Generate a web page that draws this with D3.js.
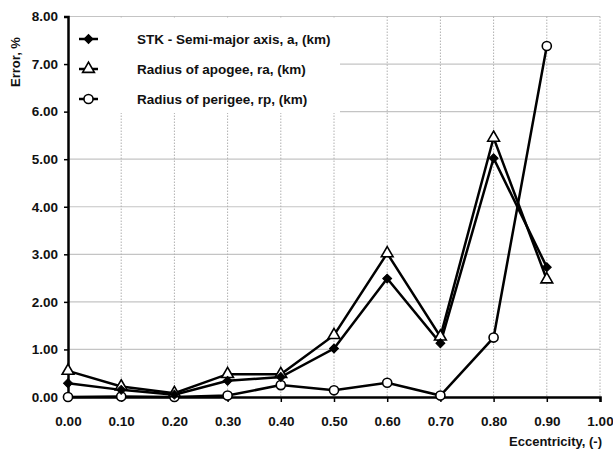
<!DOCTYPE html>
<html><head><meta charset="utf-8">
<script src="https://cdn.jsdelivr.net/npm/d3@7"></script>
<style>body{margin:0;background:#fff;} text{font-family:"Liberation Sans",Arial,sans-serif;font-weight:bold;fill:#111;}</style>
</head><body><svg id="c" width="613" height="451"></svg>
<script>
const eccentricity = [0.0, 0.1, 0.2, 0.3, 0.4, 0.5, 0.6, 0.7, 0.8, 0.9];
const semiMajor = [0.29, 0.15, 0.05, 0.34, 0.42, 1.02, 2.49, 1.13, 5.02, 2.73];
const apogee    = [0.55, 0.22, 0.08, 0.48, 0.48, 1.30, 3.02, 1.27, 5.45, 2.47];
const perigee   = [0.00, 0.01, 0.00, 0.03, 0.25, 0.14, 0.30, 0.03, 1.25, 7.38];
const seriesNames = ["STK - Semi-major axis, a, (km)", "Radius of apogee, ra, (km)", "Radius of perigee, rp, (km)"];
const xTicks = [0,0.1,0.2,0.3,0.4,0.5,0.6,0.7,0.8,0.9,1.0];
const yTicks = [0,1,2,3,4,5,6,7,8];

const svg = d3.select("#c");
const L=68, R=600, T=16.5, B=397;
const x = d3.scaleLinear().domain([0,1]).range([L,R]);
const y = d3.scaleLinear().domain([0,8]).range([B,T]);

// grid
svg.append("g").selectAll("line").data(yTicks.slice(1)).join("line")
  .attr("x1",L).attr("x2",R).attr("y1",d=>y(d)).attr("y2",d=>y(d))
  .attr("stroke","#c4c4c4").attr("stroke-width",1.2);
svg.append("g").selectAll("line").data(xTicks.slice(1)).join("line")
  .attr("x1",d=>x(d)).attr("x2",d=>x(d)).attr("y1",T).attr("y2",B)
  .attr("stroke","#b0b0b0").attr("stroke-width",1).attr("stroke-dasharray","1.5,1.5");

// legend box (white, covers grid)
svg.append("rect").attr("x",L+1).attr("y",T+1).attr("width",340-L-1).attr("height",113-T-1).attr("fill","#fff");

// axes
const xAxis = d3.axisBottom(x).tickValues(xTicks).tickFormat(d3.format(".2f")).tickSize(5).tickPadding(14);
const gx = svg.append("g").attr("transform",`translate(0,${B})`).call(xAxis);
gx.select(".domain").attr("stroke","#000").attr("stroke-width",2.5);
gx.selectAll(".tick line").attr("stroke","#000").attr("stroke-width",1.5);
gx.selectAll("text").style("font-size","13.5px").attr("fill","#222");

const yAxis = d3.axisLeft(y).tickValues(yTicks).tickFormat(d3.format(".2f")).tickSize(4).tickPadding(6);
const gy = svg.append("g").attr("transform",`translate(${L},0)`).call(yAxis);
gy.select(".domain").attr("stroke","#000").attr("stroke-width",2.5);
gy.selectAll(".tick line").attr("stroke","#000").attr("stroke-width",1.5);
gy.selectAll("text").style("font-size","13.5px").attr("fill","#222");

// titles
svg.append("text").attr("x",602).attr("y",446).attr("text-anchor","end").style("font-size","13px").text("Eccentricity, (-)");
svg.append("text").attr("transform","translate(20,62) rotate(-90)").attr("text-anchor","middle").style("font-size","13px").text("Error,  %");

// series
const data = [semiMajor, apogee, perigee];
const line = d3.line().x((d,i)=>x(eccentricity[i])).y(d=>y(d));

function drawMarker(g, k, cx, cy){
  if(k===0){
    g.append("path").attr("d",d3.symbol().type(d3.symbolSquare).size(40)())
      .attr("transform",`translate(${cx},${cy}) rotate(45)`).attr("fill","#000").attr("stroke","#000").attr("stroke-width",1);
  } else if(k===1){
    g.append("path").attr("d",d3.symbol().type(d3.symbolTriangle).size(60)())
      .attr("transform",`translate(${cx},${cy})`).attr("fill","#fff").attr("stroke","#000").attr("stroke-width",1.6);
  } else {
    g.append("path").attr("d",d3.symbol().type(d3.symbolCircle).size(65)())
      .attr("transform",`translate(${cx},${cy})`).attr("fill","#fff").attr("stroke","#000").attr("stroke-width",1.6);
  }
}

const order = [2,1,0];
order.forEach(k=>{
  svg.append("path").datum(data[k]).attr("d",line).attr("fill","none").attr("stroke","#000").attr("stroke-width",2.5).attr("stroke-linejoin","miter");
});
order.forEach(k=>{
  const g = svg.append("g");
  data[k].forEach((v,i)=>drawMarker(g,k,x(eccentricity[i]),y(v)));
});

// legend
const ly = [39,69,99];
seriesNames.forEach((n,k)=>{
  svg.append("line").attr("x1",79).attr("x2",98).attr("y1",ly[k]).attr("y2",ly[k]).attr("stroke","#000").attr("stroke-width",2.5);
  drawMarker(svg.append("g"),k,88.5,ly[k]);
  svg.append("text").attr("x",137).attr("y",ly[k]+5).style("font-size","13.5px").text(n);
});
</script></body></html>
